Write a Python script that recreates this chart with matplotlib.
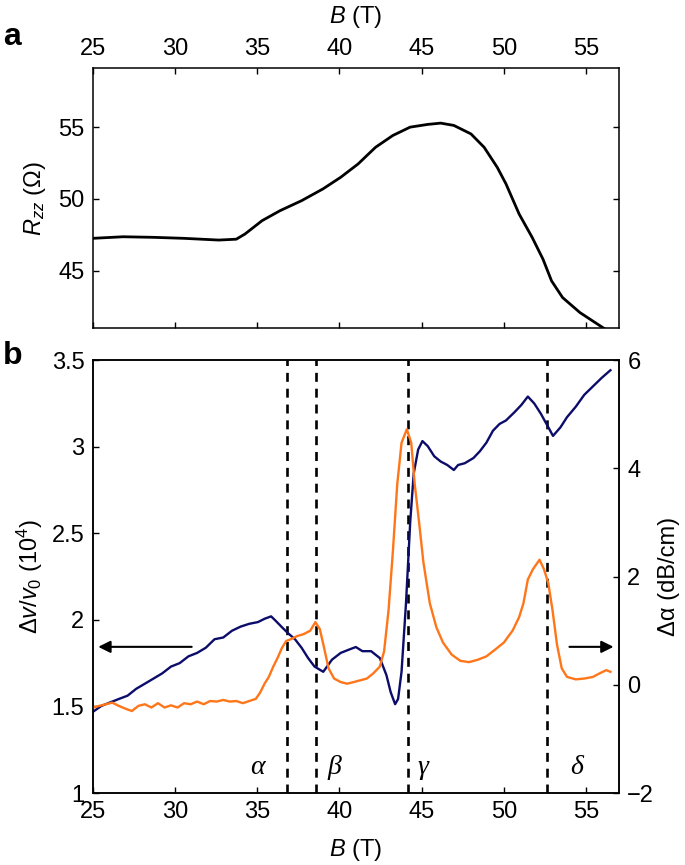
import numpy as np
import matplotlib
matplotlib.use("Agg")
import matplotlib.pyplot as plt

plt.rcParams['font.family'] = ['Liberation Sans', 'DejaVu Sans']
plt.rcParams['mathtext.fontset'] = 'custom'
plt.rcParams['mathtext.rm'] = 'Liberation Sans'
plt.rcParams['mathtext.it'] = 'Liberation Sans:italic'
plt.rcParams['mathtext.bf'] = 'Liberation Sans:bold'

# ---- panel a: R_zz vs B ----
B_a = [25.0, 26.85, 28.7, 30.55, 32.67, 33.73, 34.26, 35.3, 36.4, 37.7, 39.0, 40.08,
       41.14, 42.2, 43.25, 44.3, 45.37, 46.16, 46.96, 48.0, 48.8, 49.6, 50.13, 50.93,
       51.72, 52.38, 52.9, 53.57, 54.63, 56.08, 56.6]
R_a = [47.26, 47.37, 47.33, 47.26, 47.14, 47.2, 47.56, 48.49, 49.19, 49.88, 50.7, 51.51,
       52.44, 53.6, 54.42, 55.0, 55.19, 55.28, 55.12, 54.53, 53.6, 52.2, 51.05, 48.95,
       47.33, 45.81, 44.3, 43.14, 42.09, 41.0, 40.6]

# ---- panel b: sound velocity (left axis) ----
B_v = [25.0, 25.53, 26.06, 26.59, 27.12, 27.65, 28.17, 28.7, 29.23, 29.76, 30.29, 30.82,
       31.35, 31.88, 32.41, 32.94, 33.47, 34.0, 34.52, 35.05, 35.45, 35.85, 36.11, 36.51,
       36.9, 37.3, 37.7, 38.1, 38.49, 39.02, 39.55, 40.08, 40.61, 41.0, 41.4, 41.93,
       42.46, 42.86, 43.12, 43.39, 43.57, 43.78, 44.05, 44.31, 44.52, 44.79, 45.05, 45.37,
       45.77, 46.16, 46.56, 46.96, 47.22, 47.62, 48.15, 48.54, 48.94, 49.34, 49.74, 50.13,
       50.66, 51.06, 51.46, 51.85, 52.25, 52.65, 52.99, 53.44, 53.84, 54.37, 54.89, 55.42,
       55.95, 56.48]
dv = [1.468, 1.503, 1.523, 1.543, 1.562, 1.602, 1.631, 1.661, 1.691, 1.730, 1.750, 1.789,
      1.809, 1.839, 1.888, 1.898, 1.937, 1.961, 1.977, 1.987, 2.006, 2.020, 1.996, 1.957,
      1.921, 1.888, 1.839, 1.779, 1.730, 1.700, 1.770, 1.809, 1.829, 1.843, 1.819, 1.819,
      1.779, 1.681, 1.582, 1.513, 1.543, 1.700, 2.095, 2.569, 2.845, 2.983, 3.032, 3.003,
      2.944, 2.914, 2.894, 2.865, 2.894, 2.904, 2.934, 2.973, 3.023, 3.092, 3.131, 3.151,
      3.200, 3.240, 3.289, 3.249, 3.190, 3.121, 3.062, 3.111, 3.170, 3.230, 3.299, 3.348,
      3.397, 3.441]

# ---- panel b: attenuation (right axis) ----
B_att = [25.0, 25.4, 25.8, 26.19, 26.59, 26.98, 27.38, 27.78, 28.17, 28.57, 28.97, 29.37,
         29.76, 30.16, 30.56, 30.95, 31.35, 31.75, 32.14, 32.54, 32.94, 33.33, 33.73, 34.13,
         34.52, 34.92, 35.19, 35.45, 35.71, 35.98, 36.24, 36.51, 36.77, 37.04, 37.43, 37.83,
         38.23, 38.54, 38.81, 39.07, 39.34, 39.68, 40.08, 40.48, 40.87, 41.27, 41.67, 42.06,
         42.46, 42.72, 42.99, 43.25, 43.52, 43.78, 44.1, 44.37, 44.58, 44.84, 45.11, 45.5,
         45.9, 46.3, 46.83, 47.35, 47.88, 48.41, 48.94, 49.47, 50.0, 50.53, 50.93, 51.19,
         51.46, 51.77, 52.17, 52.44, 52.7, 52.96, 53.23, 53.52, 53.84, 54.37, 54.89, 55.42,
         55.82, 56.22, 56.48]
att = [-0.422, -0.39, -0.36, -0.33, -0.39, -0.44, -0.485, -0.39, -0.36, -0.42, -0.34, -0.42,
       -0.38, -0.42, -0.34, -0.36, -0.31, -0.36, -0.30, -0.31, -0.28, -0.31, -0.30, -0.34,
       -0.30, -0.26, -0.14, 0.02, 0.146, 0.336, 0.494, 0.683, 0.81, 0.84, 0.90, 0.936,
       1.0, 1.157, 1.03, 0.683, 0.304, 0.115, 0.05, 0.02, 0.05, 0.083, 0.115, 0.21,
       0.336, 0.62, 1.378, 2.45, 3.71, 4.47, 4.72, 4.47, 3.71, 3.02, 2.26, 1.504,
       1.06, 0.78, 0.557, 0.443, 0.418, 0.462, 0.525, 0.65, 0.78, 1.0, 1.25, 1.504,
       1.946, 2.135, 2.31, 2.135, 1.88, 1.378, 0.746, 0.304, 0.146, 0.10, 0.115, 0.146,
       0.21, 0.27, 0.24]

transitions = [36.84, 38.56, 44.15, 52.62]
phase_labels = ['α', 'β', 'γ', 'δ']
phase_x = [35.05, 39.7, 45.1, 54.4]

x_ticks = [25, 30, 35, 40, 45, 50, 55]
FS = 17
BLUE = '#0c0c6a'
ORANGE = '#ff761a'

fig = plt.figure(figsize=(6.85, 8.65), dpi=100)
L, W = 0.1353, 0.7683

# Panel a
axa = fig.add_axes([L, 0.6205, W, 0.3006])
axa.plot(B_a, R_a, color='black', lw=2.0)
axa.set_xlim(25, 57)
axa.set_ylim(41, 59.1)
axa.set_xticks(x_ticks)
axa.set_yticks([45, 50, 55])
axa.tick_params(direction='in', top=True, right=True, bottom=True, labeltop=True,
                labelbottom=False, labelsize=FS, length=4, width=1, pad=6)
axa.xaxis.set_label_position('top')
axa.set_xlabel('$B$ (T)', fontsize=FS, labelpad=11)
axa.set_ylabel('$R_{zz}$ (Ω)', fontsize=FS, labelpad=7)
for s in axa.spines.values():
    s.set_linewidth(1.1)

# Panel b
axb = fig.add_axes([L, 0.0832, W, 0.5006])
axb2 = axb.twinx()
for xv in transitions:
    axb.axvline(xv, color='black', lw=1.9, ls=(0, (3.4, 2.6)), zorder=1)
axb.plot(B_v, dv, color=BLUE, lw=1.7, zorder=3)
axb2.plot(B_att, att, color=ORANGE, lw=1.7, zorder=2)
axb.set_xlim(25, 57)
axb.set_ylim(1, 3.5)
axb2.set_ylim(-2, 6)
axb.set_xticks(x_ticks)
axb.set_yticks([1, 1.5, 2, 2.5, 3, 3.5])
axb.set_yticklabels(['1', '1.5', '2', '2.5', '3', '3.5'])
axb2.set_yticks([-2, 0, 2, 4, 6])
axb2.set_yticklabels(['\u22122', '0', '2', '4', '6'])
axb.tick_params(direction='in', labelsize=FS, length=4, width=1, pad=6)
axb2.tick_params(direction='in', labelsize=FS, length=4, width=1, pad=6)
axb.set_xlabel('$B$ (T)', fontsize=FS, labelpad=10)
axb.set_ylabel('$\\Delta v/v_0$ (10$^4$)', fontsize=FS, labelpad=5)
axb2.set_ylabel('Δα (dB/cm)', fontsize=FS, labelpad=3)
for s in list(axb.spines.values()) + list(axb2.spines.values()):
    s.set_linewidth(1.1)

for lab, xv in zip(phase_labels, phase_x):
    axb.text(xv, 1.15, lab, fontsize=20, family='Liberation Serif', style='italic',
             ha='center', va='center')

arrow_kw = dict(arrowstyle='-|>', color='black', lw=1.5, mutation_scale=18,
                shrinkA=0, shrinkB=0)
axb.annotate('', xy=(25.34, 1.844), xytext=(31.02, 1.844), arrowprops=arrow_kw)
axb.annotate('', xy=(56.67, 1.844), xytext=(53.99, 1.844), arrowprops=arrow_kw)

fig.text(0.004, 0.957, 'a', fontsize=23, fontweight='bold', va='center', ha='left')
fig.text(0.004, 0.588, 'b', fontsize=23, fontweight='bold', va='center', ha='left')

fig.savefig('out.png', dpi=100)
